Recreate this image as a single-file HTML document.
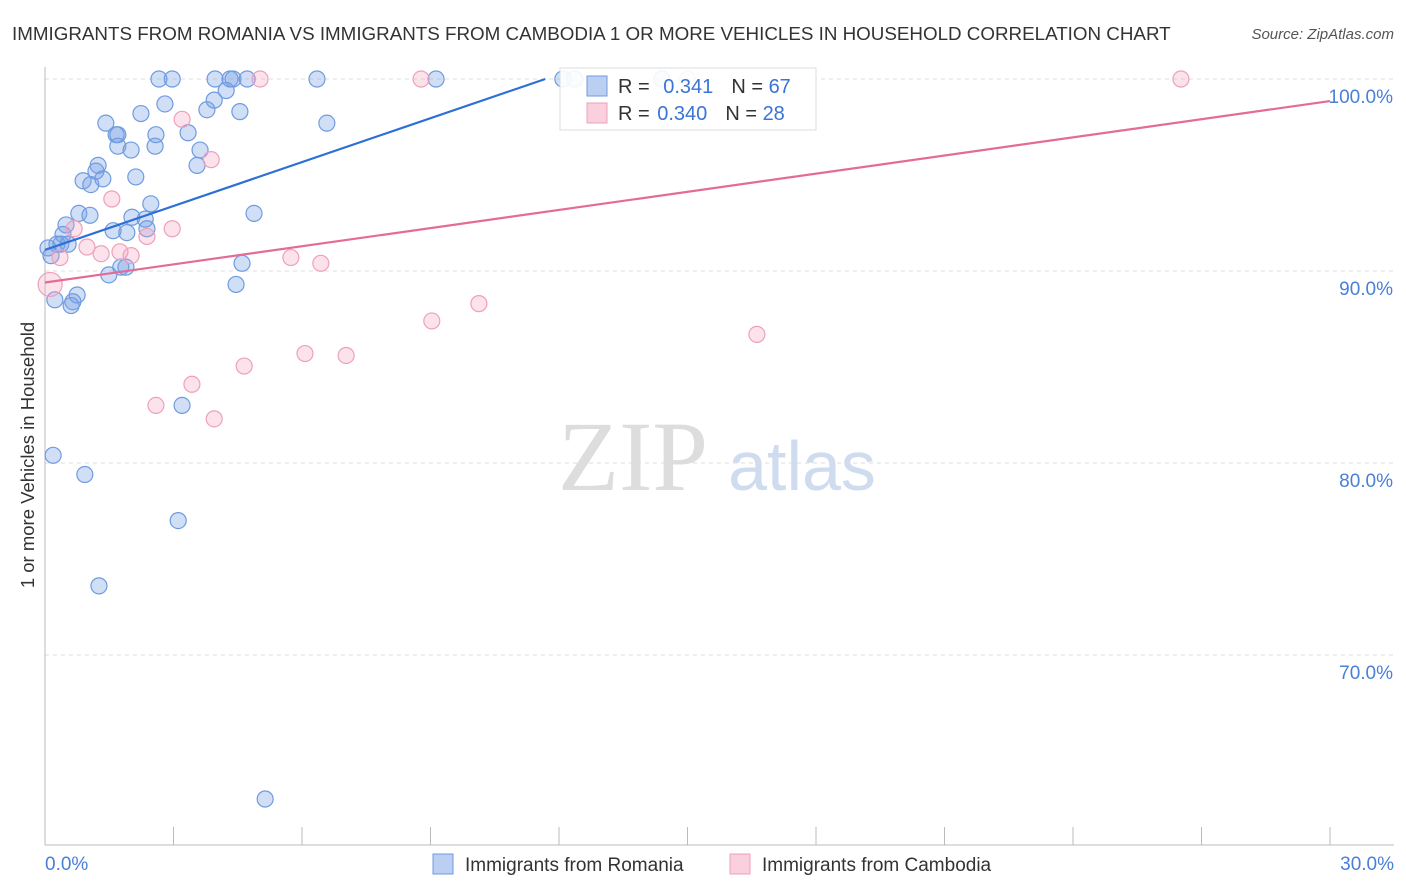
<!DOCTYPE html>
<html><head><meta charset="utf-8">
<style>
body{margin:0;background:#fff;font-family:"Liberation Sans",sans-serif;}
#wrap{position:relative;width:1406px;height:892px;overflow:hidden;}
</style></head>
<body>
<div id="wrap">
<svg id="chart" width="1406" height="892">
  <text x="12" y="40" font-size="18.8" fill="#333">IMMIGRANTS FROM ROMANIA VS IMMIGRANTS FROM CAMBODIA 1 OR MORE VEHICLES IN HOUSEHOLD CORRELATION CHART</text>
  <text x="1394" y="39" font-size="15" fill="#555" font-style="italic" text-anchor="end">Source: ZipAtlas.com</text>
  <text x="633" y="490" font-size="100" fill="#ddd" font-family="Liberation Serif, serif" text-anchor="middle">ZIP</text>
  <text x="802" y="490" font-size="70" fill="#cfdcf0" text-anchor="middle">atlas</text>
  <g id="grid"></g><g id="axes"></g><g id="marks"></g><g id="legend"></g>
  <text transform="translate(34,455) rotate(-90)" font-size="18.5" fill="#333" text-anchor="middle">1 or more Vehicles in Household</text>
</svg>
</div>
<script>
const blueX=[2.66,2.97,3.97,4.32,4.39,4.72,6.35,9.13,12.09,12.37,14.4,2.80,2.24,3.78,3.95,4.23,4.55,6.58,1.42,1.66,1.70,2.59,3.34,1.70,2.01,2.57,3.62,1.24,3.55,1.19,2.12,0.89,1.07,1.35,2.47,4.88,0.79,1.05,2.03,2.34,0.49,0.42,1.59,1.91,2.38,0.28,0.37,0.54,0.07,0.14,4.60,1.77,1.89,1.49,4.46,0.75,0.65,0.61,0.23,3.20,0.19,0.93,3.11,1.26,5.14];
const blueY=[100,100,100,100,100,100,100,100,100,100,100,98.7,98.2,98.4,98.9,99.4,98.3,97.7,97.7,97.1,97.1,97.1,97.2,96.5,96.3,96.5,96.3,95.5,95.5,95.2,94.9,94.7,94.5,94.8,93.5,93.0,93.0,92.9,92.8,92.7,92.4,91.9,92.1,92.0,92.2,91.4,91.4,91.4,91.2,90.8,90.4,90.2,90.2,89.8,89.3,88.75,88.4,88.2,88.5,83.0,80.4,79.4,77.0,73.6,62.5];
const pinkX=[5.02,8.78,26.52,15.0,3.20,3.88,1.56,2.97,2.38,0.68,0.98,1.31,1.75,2.01,0.35,5.74,6.44,0.12,10.13,9.03,16.62,6.07,7.03,3.43,4.65,2.59,3.95];
const pinkY=[100,100,100,100,97.9,95.8,93.75,92.2,91.8,92.2,91.25,90.9,91.0,90.8,90.7,90.7,90.4,89.3,88.3,87.4,86.7,85.7,85.6,84.1,85.05,83.0,82.3];
const blueTrend=[[0,91.1],[11.68,100]];
const pinkTrend=[[0,89.4],[30,98.85]];
const yTicks=[100,90,80,70];
const yTickLabels=["100.0%","90.0%","80.0%","70.0%"];
const xTicks=[0,3,6,9,12,15,18,21,24,27,30];
const NS="http://www.w3.org/2000/svg";
const X=v=>45+v*1285/30, Y=v=>79+(100-v)*19.2;
function mk(p,t,a){const e=document.createElementNS(NS,t);for(const k in a)e.setAttribute(k,a[k]);p.appendChild(e);return e;}
const grid=document.getElementById('grid'),axes=document.getElementById('axes'),marks=document.getElementById('marks'),leg=document.getElementById('legend');
yTicks.forEach((t,i)=>{
  const l=mk(grid,'line',{x1:45,x2:1394,y1:Y(t),y2:Y(t),stroke:'#ddd','stroke-dasharray':'4,4'});
  
  
  const tx=mk(axes,'text',{x:1393,y:Y(t)+24,'font-size':19,fill:'#4a7fd6','text-anchor':'end'});
  tx.textContent=yTickLabels[i];
  
  
});
const ya=mk(axes,'line',{x1:45,x2:45,y1:67,y2:845,stroke:'#bbb'});


const xa=mk(axes,'line',{x1:45,x2:1394,y1:845,y2:845,stroke:'#bbb'});


xTicks.forEach(t=>{
  const l=mk(axes,'line',{x1:X(t),x2:X(t),y1:827,y2:845,stroke:'#bbb'});
  
  
});
[[45,'start','0.0%'],[1394,'end','30.0%']].forEach(d=>{
  const t=mk(axes,'text',{x:d[0],y:870,'font-size':19,fill:'#4a7fd6','text-anchor':d[1]});
  t.textContent=d[2];
  
  
});
blueX.forEach((v,i)=>{
  const c=mk(marks,'circle',{cx:X(v),cy:Y(blueY[i]),r:8,fill:'rgba(120,160,230,0.35)',stroke:'#6f9be0','stroke-width':1.2});
  
  
});
pinkX.forEach((v,i)=>{
  const c=mk(marks,'circle',{cx:X(v),cy:Y(pinkY[i]),r:i==17?12:8,fill:'rgba(245,160,190,0.3)',stroke:'#eea0bb','stroke-width':1.2});
  
  
});
const bt=mk(marks,'line',{x1:X(blueTrend[0][0]),y1:Y(blueTrend[0][1]),x2:X(blueTrend[1][0]),y2:Y(blueTrend[1][1]),stroke:'#2c6fd6','stroke-width':2.2});


const pt=mk(marks,'line',{x1:X(pinkTrend[0][0]),y1:Y(pinkTrend[0][1]),x2:X(pinkTrend[1][0]),y2:Y(pinkTrend[1][1]),stroke:'#e46b96','stroke-width':2.2});


const lb=mk(leg,'rect',{x:560,y:68,width:256,height:62,fill:'rgba(255,255,255,0.9)',stroke:'#ddd'});


[[76,'rgba(120,160,230,0.5)','#6f9be0','0.341','67'],[103,'rgba(245,160,190,0.5)','#eea0bb','0.340','28']].forEach((d,i)=>{
  const s=mk(leg,'rect',{x:587,y:d[0],width:20,height:20,fill:d[1],stroke:d[2]});
  
  
  const t=mk(leg,'text',{x:618,y:d[0]+17,'font-size':20,fill:'#333'});
  t.innerHTML='R = <tspan fill="#3a74d6" dx="'+(i?2:8)+'">'+d[3]+'</tspan><tspan dx="18">N = </tspan><tspan fill="#3a74d6">'+d[4]+'</tspan>';
  
  
});
[[433,'rgba(120,160,230,0.5)','#6f9be0','Immigrants from Romania'],[730,'rgba(245,160,190,0.5)','#eea0bb','Immigrants from Cambodia']].forEach((d,i)=>{
  const s=mk(leg,'rect',{x:d[0],y:854,width:20,height:20,fill:d[1],stroke:d[2]});
  
  
  const t=mk(leg,'text',{x:d[0]+32,y:871,'font-size':19,fill:'#333'});
  t.textContent=d[3];
  
  
});
</script>
</body></html>
